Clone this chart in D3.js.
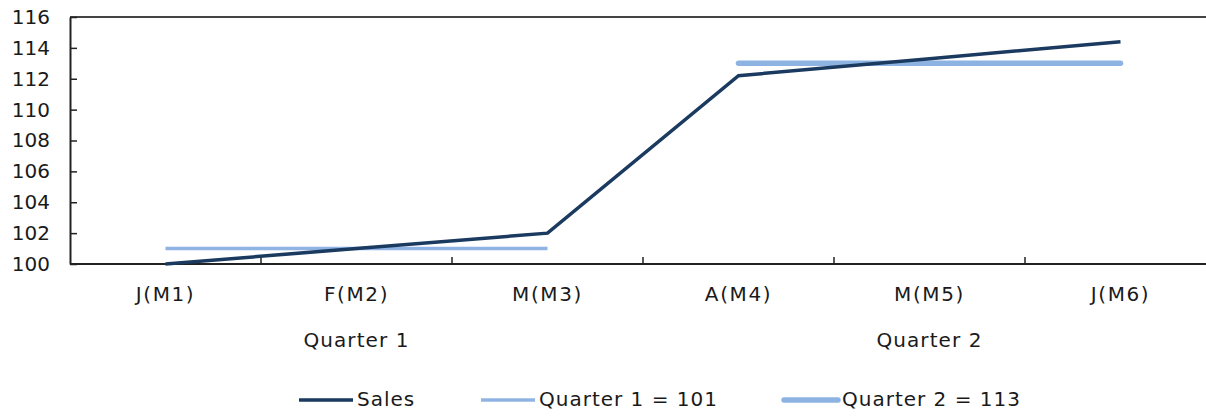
<!DOCTYPE html>
<html>
<head>
<meta charset="utf-8">
<script src="https://cdn.jsdelivr.net/npm/d3@7"></script>
<style>
  html, body { margin: 0; padding: 0; background: #fff; }
  svg { display: block; font-family: "DejaVu Sans", Verdana, sans-serif; }
</style>
</head>
<body>
<svg id="chart" width="1206" height="417"></svg>
<script>
// Monthly sales, first half of the year
const months = ["J(M1)", "F(M2)", "M(M3)", "A(M4)", "M(M5)", "J(M6)"];
const sales = [100, 101, 102, 112.2, 113.3, 114.4];

// Quarter groupings and their average lines
const quarters = ["Quarter 1", "Quarter 2"];
const quarterMonths = [[0, 2], [3, 5]];
const quarterAverages = [101, 113];
const legendLabels = ["Sales", "Quarter 1 = 101", "Quarter 2 = 113"];

const yTicks = [100, 102, 104, 106, 108, 110, 112, 114, 116];

const svg = d3.select("#chart");
const margin = { left: 70, top: 17, bottom: 264 };
const plotRight = 1216; // the plot runs slightly past the canvas edge

const x = d3.scaleBand().domain(months).range([margin.left, plotRight]).padding(0);
const y = d3.scaleLinear().domain([100, 116]).range([margin.bottom, margin.top]);
const cx = m => x(m) + x.bandwidth() / 2;

const axisColor = "#222";
const textColor = "#1a1a1a";
const salesColor = "#1b3a60";
const q1Color = "#8fb4e3";
const q2Color = "#8db3e2";

// Top border of the plot
svg.append("line")
  .attr("x1", margin.left).attr("x2", plotRight)
  .attr("y1", margin.top).attr("y2", margin.top)
  .attr("stroke", "#444").attr("stroke-width", 2);

// Y axis with inward ticks
const yAxis = svg.append("g")
  .attr("transform", `translate(${margin.left},0)`)
  .call(d3.axisLeft(y).tickValues(yTicks).tickSize(-7).tickPadding(20).tickSizeOuter(0));
yAxis.select(".domain").attr("stroke", axisColor).attr("stroke-width", 2);
yAxis.selectAll(".tick line").attr("stroke", axisColor).attr("stroke-width", 1.5);
yAxis.selectAll(".tick text")
  .attr("font-size", 20).attr("fill", textColor)
  .attr("font-family", "DejaVu Sans, Verdana, sans-serif");

// X axis: ticks sit on the category boundaries, pointing up into the plot
const bottom = svg.append("g");
bottom.append("line")
  .attr("x1", margin.left).attr("x2", plotRight)
  .attr("y1", margin.bottom).attr("y2", margin.bottom)
  .attr("stroke", axisColor).attr("stroke-width", 2);
bottom.selectAll("line.xtick")
  .data(months.slice(1))
  .join("line")
  .attr("class", "xtick")
  .attr("x1", d => x(d)).attr("x2", d => x(d))
  .attr("y1", margin.bottom).attr("y2", margin.bottom - 7)
  .attr("stroke", axisColor).attr("stroke-width", 1.5);
bottom.selectAll("text.month")
  .data(months)
  .join("text")
  .attr("class", "month")
  .attr("x", d => cx(d))
  .attr("y", 294)
  .attr("dy", "0.35em")
  .attr("text-anchor", "middle")
  .attr("font-size", 20).attr("fill", textColor)
  .attr("letter-spacing", 1.6)
  .text(d => d);
bottom.selectAll("text.quarter")
  .data(quarters)
  .join("text")
  .attr("class", "quarter")
  .attr("x", (d, i) => (x(months[quarterMonths[i][0]]) + x(months[quarterMonths[i][1]]) + x.bandwidth()) / 2)
  .attr("y", 340)
  .attr("dy", "0.35em")
  .attr("text-anchor", "middle")
  .attr("font-size", 20).attr("fill", textColor)
  .attr("letter-spacing", 1.1)
  .text(d => d);

// Quarter average lines
const qWidths = [3.5, 5.5];
const qColors = [q1Color, q2Color];
svg.selectAll("line.avg")
  .data(quarterAverages)
  .join("line")
  .attr("class", "avg")
  .attr("x1", (d, i) => cx(months[quarterMonths[i][0]]))
  .attr("x2", (d, i) => cx(months[quarterMonths[i][1]]))
  .attr("y1", d => y(d)).attr("y2", d => y(d))
  .attr("stroke", (d, i) => qColors[i])
  .attr("stroke-width", (d, i) => qWidths[i])
  .attr("stroke-linecap", (d, i) => i === 1 ? "round" : "butt");

// Sales line
const line = d3.line().x((d, i) => cx(months[i])).y(d => y(d));
svg.append("path")
  .datum(sales)
  .attr("d", line)
  .attr("fill", "none")
  .attr("stroke", salesColor)
  .attr("stroke-width", 3.5)
  .attr("stroke-linejoin", "miter");

// Legend
const legendX = [299, 481, 784];
const legendStroke = [salesColor, q1Color, q2Color];
const legendWidth = [3.5, 3.5, 5.5];
const legend = svg.append("g");
legendLabels.forEach((label, i) => {
  legend.append("line")
    .attr("x1", legendX[i]).attr("x2", legendX[i] + 54)
    .attr("y1", 400).attr("y2", 400)
    .attr("stroke", legendStroke[i])
    .attr("stroke-width", legendWidth[i])
    .attr("stroke-linecap", i === 2 ? "round" : "butt");
  legend.append("text")
    .attr("x", legendX[i] + 58)
    .attr("y", 399)
    .attr("dy", "0.35em")
    .attr("font-size", 20).attr("fill", textColor)
    .attr("letter-spacing", 1)
    .text(label);
});
</script>
</body>
</html>
